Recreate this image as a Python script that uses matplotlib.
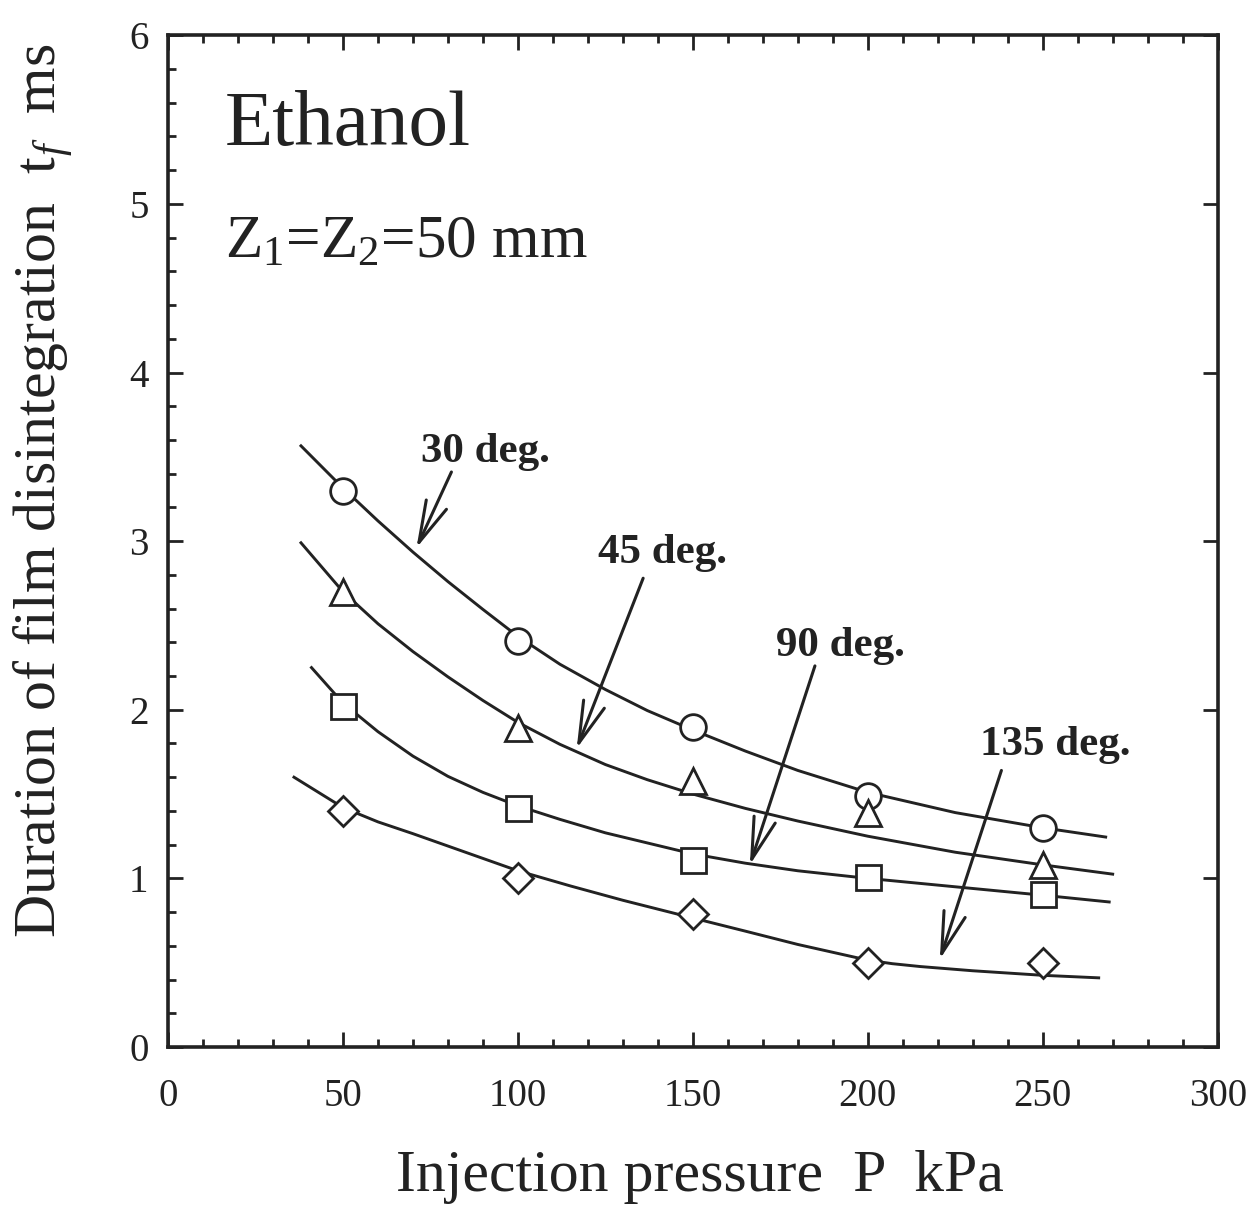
import matplotlib
matplotlib.use("Agg")
import matplotlib.pyplot as plt
from matplotlib.ticker import MultipleLocator

plt.rcParams["font.family"] = ["Liberation Serif", "DejaVu Serif"]
plt.rcParams["mathtext.fontset"] = "custom"
plt.rcParams["mathtext.rm"] = "Liberation Serif"
plt.rcParams["mathtext.it"] = "Liberation Serif:italic"

# measured points
pressure = [50, 100, 150, 200, 250]
tf_30 = [3.30, 2.41, 1.90, 1.49, 1.30]
tf_45 = [2.70, 1.89, 1.58, 1.39, 1.08]
tf_90 = [2.02, 1.42, 1.11, 1.01, 0.91]
tf_135 = [1.40, 1.00, 0.79, 0.50, 0.50]

# fitted curves
fit_x30 = [38, 50, 60, 70, 80, 90, 100, 112, 125, 137, 150, 165, 180, 200, 225, 250, 268]
fit_y30 = [3.565, 3.315, 3.12, 2.935, 2.76, 2.595, 2.435, 2.27, 2.12, 1.995, 1.88, 1.755, 1.64, 1.51, 1.39, 1.30, 1.245]
fit_x45 = [38, 50, 60, 70, 80, 90, 100, 112, 125, 137, 150, 165, 180, 200, 225, 250, 270]
fit_y45 = [2.99, 2.70, 2.51, 2.345, 2.195, 2.055, 1.925, 1.795, 1.675, 1.585, 1.50, 1.415, 1.34, 1.25, 1.155, 1.08, 1.025]
fit_x90 = [41, 50, 60, 70, 80, 90, 100, 112, 125, 137, 150, 165, 180, 200, 215, 230, 250, 269]
fit_y90 = [2.25, 2.04, 1.87, 1.725, 1.605, 1.51, 1.43, 1.35, 1.27, 1.21, 1.145, 1.09, 1.045, 1.00, 0.97, 0.94, 0.90, 0.86]
fit_x135 = [36, 50, 60, 70, 85, 100, 115, 130, 150, 165, 180, 200, 207, 215, 230, 250, 266]
fit_y135 = [1.60, 1.42, 1.335, 1.265, 1.155, 1.045, 0.955, 0.87, 0.765, 0.687, 0.608, 0.515, 0.494, 0.477, 0.452, 0.425, 0.41]

labels = ["30 deg.", "45 deg.", "90 deg.", "135 deg."]
label_pos = [(90.6, 3.53), (141.4, 2.93), (192.3, 2.38), (253.7, 1.79)]
arrow_tail = [(81.0, 3.41), (135.8, 2.78), (184.9, 2.26), (238.2, 1.64)]
arrow_head = [(71.0, 2.96), (116.8, 1.77), (166.3, 1.08), (220.6, 0.52)]

fig = plt.figure(figsize=(12.54, 12.16), dpi=100)
ax = fig.add_axes([0.134, 0.139, 0.837, 0.832])

for fx, fy in [(fit_x30, fit_y30), (fit_x45, fit_y45), (fit_x90, fit_y90), (fit_x135, fit_y135)]:
    ax.plot(fx, fy, color="#222222", lw=2.1, zorder=2, solid_joinstyle="round")

mk = dict(ls="none", mfc="white", mec="#222222", mew=2.0, zorder=3)
ax.plot(pressure, tf_30, marker="o", ms=18.5, **mk)
ax.plot(pressure, tf_45, marker="^", ms=19, **mk)
ax.plot(pressure, tf_90, marker="s", ms=18, **mk)
ax.plot(pressure, tf_135, marker="D", ms=15.5, **mk)

for lab, pos, tail, head in zip(labels, label_pos, arrow_tail, arrow_head):
    ax.text(pos[0], pos[1], lab, fontsize=31, fontweight="bold", ha="center", va="center",
            color="#222222")
    ax.annotate("", xy=head, xytext=tail,
                arrowprops=dict(arrowstyle="->,head_length=1.5,head_width=0.4",
                                mutation_scale=20, lw=2.2, color="#222222",
                                shrinkA=0, shrinkB=0))

ax.text(16.3, 5.35, "Ethanol", fontsize=57, va="baseline", color="#222222")
ax.text(16.3, 4.68, "Z$_1$=Z$_2$=50 mm", fontsize=44, va="baseline", color="#222222")

ax.set_xlim(0, 300)
ax.set_ylim(0, 6)
ax.xaxis.set_major_locator(MultipleLocator(50))
ax.xaxis.set_minor_locator(MultipleLocator(10))
ax.yaxis.set_major_locator(MultipleLocator(1))
ax.yaxis.set_minor_locator(MultipleLocator(0.2))
ax.tick_params(which="both", direction="in", top=True, right=True, width=2, colors="#222222")
ax.tick_params(which="major", length=11, labelsize=28)
ax.tick_params(which="minor", length=5.5)
ax.tick_params(which="minor", right=False)
ax.tick_params(axis="x", pad=22)
ax.tick_params(axis="y", pad=14)
for sp in ax.spines.values():
    sp.set_linewidth(2.6)
    sp.set_color("#222222")

ax.set_xlabel("Injection pressure  P  kPa", fontsize=43, color="#222222")
ax.set_ylabel(r"Duration of film disintegration  $\mathrm{t}_f$  ms", fontsize=43, color="#222222")
ax.xaxis.set_label_coords(0.507, -0.102)
ax.yaxis.set_label_coords(-0.089, 0.55)

fig.savefig("out.png", dpi=100)
